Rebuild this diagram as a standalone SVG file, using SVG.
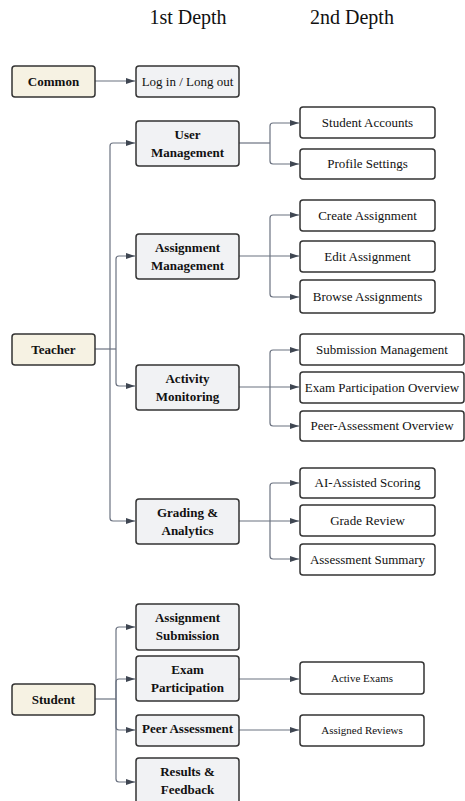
<svg xmlns="http://www.w3.org/2000/svg" width="465" height="801" viewBox="0 0 465 801">
<style>
.t{font-family:"Liberation Serif","Times New Roman",serif;fill:#111;text-anchor:middle}
.title{font-size:20px}
.b{font-size:13px;font-weight:bold}
.n{font-size:13px}
.s{font-size:11px}
.root{fill:#f6f2e3;stroke:#333;stroke-width:1.5}
.l1{fill:#f1f2f4;stroke:#333;stroke-width:1.5}
.l2{fill:#fff;stroke:#333;stroke-width:1.5}
.c{fill:none;stroke:#6b7280;stroke-width:1.2}
</style>
<defs>
<marker id="ah" markerWidth="10" markerHeight="8" refX="9" refY="4" orient="auto" markerUnits="userSpaceOnUse">
<path d="M0,1 L9,4 L0,7 Z" fill="#3f4652"/>
</marker>
</defs>
<rect width="465" height="801" fill="#fff"/>
<text class="t title" x="188" y="24">1st Depth</text>
<text class="t title" x="352" y="24">2nd Depth</text>

<g id="connectors">
<path class="c" d="M95 81 H135" marker-end="url(#ah)"/>
<!-- Teacher -->
<path class="c" d="M95 349 H116"/>
<path class="c" d="M110 349 V146 Q110 143 113 143 H135" marker-end="url(#ah)"/>
<path class="c" d="M110 349 V518 Q110 521 113 521 H135" marker-end="url(#ah)"/>
<path class="c" d="M116 349 V259 Q116 256 119 256 H135" marker-end="url(#ah)"/>
<path class="c" d="M116 349 V383 Q116 386 119 386 H135" marker-end="url(#ah)"/>
<!-- User Mgmt -->
<path class="c" d="M239 143 H270"/>
<path class="c" d="M270 143 V126 Q270 123 273 123 H299" marker-end="url(#ah)"/>
<path class="c" d="M270 143 V161 Q270 164 273 164 H299" marker-end="url(#ah)"/>
<!-- Assignment Mgmt -->
<path class="c" d="M239 256 H299" marker-end="url(#ah)"/>
<path class="c" d="M270 256 V218 Q270 215 273 215 H299" marker-end="url(#ah)"/>
<path class="c" d="M270 256 V294 Q270 297 273 297 H299" marker-end="url(#ah)"/>
<!-- Activity -->
<path class="c" d="M239 387 H299" marker-end="url(#ah)"/>
<path class="c" d="M270 387 V353 Q270 350 273 350 H299" marker-end="url(#ah)"/>
<path class="c" d="M270 387 V423 Q270 426 273 426 H299" marker-end="url(#ah)"/>
<!-- Grading -->
<path class="c" d="M239 521 H299" marker-end="url(#ah)"/>
<path class="c" d="M270 521 V486 Q270 483 273 483 H299" marker-end="url(#ah)"/>
<path class="c" d="M270 521 V556 Q270 559 273 559 H299" marker-end="url(#ah)"/>
<!-- Student -->
<path class="c" d="M95 699 H116"/>
<path class="c" d="M116 699 V630 Q116 627 119 627 H135" marker-end="url(#ah)"/>
<path class="c" d="M116 699 V682 Q116 679 119 679 H135" marker-end="url(#ah)"/>
<path class="c" d="M116 699 V727 Q116 730 119 730 H135" marker-end="url(#ah)"/>
<path class="c" d="M116 699 V779 Q116 782 119 782 H135" marker-end="url(#ah)"/>
<path class="c" d="M239 679 H299" marker-end="url(#ah)"/>
<path class="c" d="M239 730 H299" marker-end="url(#ah)"/>
</g>

<g id="common"><rect class="root" x="12" y="66" width="83" height="31" rx="3"/><text class="t b" x="53.5" y="86">Common</text></g>
<g id="login"><rect class="l1" x="136" y="66" width="103" height="31" rx="3"/><text class="t n" x="187.5" y="86">Log in / Long out</text></g>

<g id="teacher"><rect class="root" x="12" y="334" width="83" height="31" rx="3"/><text class="t b" x="53.5" y="354">Teacher</text></g>

<g id="user-management"><rect class="l1" x="136" y="121" width="103" height="45" rx="3"/><text class="t b" x="187.5" y="139">User</text><text class="t b" x="187.5" y="157">Management</text></g>
<g id="student-accounts"><rect class="l2" x="300" y="107" width="135" height="31" rx="3"/><text class="t n" x="367.5" y="127">Student Accounts</text></g>
<g id="profile-settings"><rect class="l2" x="300" y="149" width="135" height="30" rx="3"/><text class="t n" x="367.5" y="168">Profile Settings</text></g>

<g id="assignment-management"><rect class="l1" x="136" y="234" width="103" height="45" rx="3"/><text class="t b" x="187.5" y="252">Assignment</text><text class="t b" x="187.5" y="270">Management</text></g>
<g id="create-assignment"><rect class="l2" x="300" y="200" width="135" height="31" rx="3"/><text class="t n" x="367.5" y="220">Create Assignment</text></g>
<g id="edit-assignment"><rect class="l2" x="300" y="241" width="135" height="31" rx="3"/><text class="t n" x="367.5" y="261">Edit Assignment</text></g>
<g id="browse-assignments"><rect class="l2" x="300" y="280" width="135" height="33" rx="3"/><text class="t n" x="367.5" y="301">Browse Assignments</text></g>

<g id="activity-monitoring"><rect class="l1" x="136" y="365" width="103" height="45" rx="3"/><text class="t b" x="187.5" y="383">Activity</text><text class="t b" x="187.5" y="401">Monitoring</text></g>
<g id="submission-management"><rect class="l2" x="300" y="334" width="164" height="31" rx="3"/><text class="t n" x="382" y="354">Submission Management</text></g>
<g id="exam-participation-overview"><rect class="l2" x="300" y="372" width="164" height="31" rx="3"/><text class="t n" x="382" y="392">Exam Participation Overview</text></g>
<g id="peer-assessment-overview"><rect class="l2" x="300" y="411" width="164" height="30" rx="3"/><text class="t n" x="382" y="430">Peer-Assessment Overview</text></g>

<g id="grading-analytics"><rect class="l1" x="136" y="499" width="103" height="45" rx="3"/><text class="t b" x="187.5" y="517">Grading &amp;</text><text class="t b" x="187.5" y="535">Analytics</text></g>
<g id="ai-assisted-scoring"><rect class="l2" x="300" y="468" width="135" height="30" rx="3"/><text class="t n" x="367.5" y="487">AI-Assisted Scoring</text></g>
<g id="grade-review"><rect class="l2" x="300" y="505" width="135" height="31" rx="3"/><text class="t n" x="367.5" y="525">Grade Review</text></g>
<g id="assessment-summary"><rect class="l2" x="300" y="544" width="135" height="31" rx="3"/><text class="t n" x="367.5" y="564">Assessment Summary</text></g>

<g id="student"><rect class="root" x="12" y="684" width="83" height="31" rx="3"/><text class="t b" x="53.5" y="704">Student</text></g>
<g id="assignment-submission"><rect class="l1" x="136" y="604" width="103" height="46" rx="3"/><text class="t b" x="187.5" y="622">Assignment</text><text class="t b" x="187.5" y="640">Submission</text></g>
<g id="exam-participation"><rect class="l1" x="136" y="656" width="103" height="45" rx="3"/><text class="t b" x="187.5" y="674">Exam</text><text class="t b" x="187.5" y="692">Participation</text></g>
<g id="peer-assessment"><rect class="l1" x="136" y="715" width="103" height="31" rx="3"/><text class="t b" x="187.5" y="733">Peer Assessment</text></g>
<g id="results-feedback"><rect class="l1" x="136" y="758" width="103" height="46" rx="3"/><text class="t b" x="187.5" y="776">Results &amp;</text><text class="t b" x="187.5" y="794">Feedback</text></g>
<g id="active-exams"><rect class="l2" x="300" y="662" width="124" height="32" rx="3"/><text class="t s" x="362" y="682">Active Exams</text></g>
<g id="assigned-reviews"><rect class="l2" x="300" y="715" width="124" height="31" rx="3"/><text class="t s" x="362" y="734">Assigned Reviews</text></g>
</svg>
